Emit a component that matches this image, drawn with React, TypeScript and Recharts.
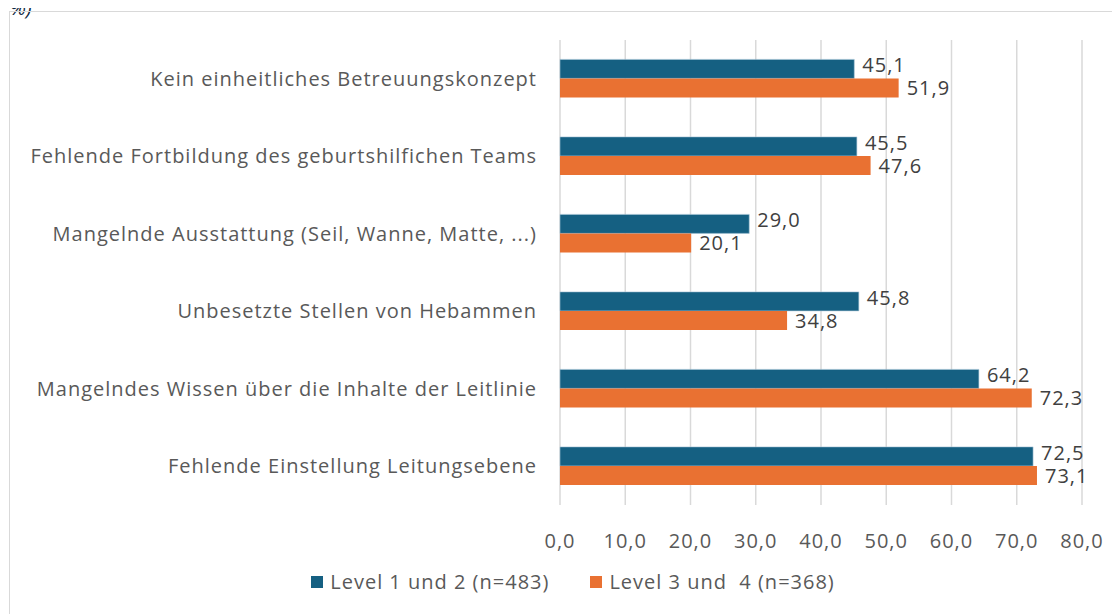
import React from "react";
import { BarChart, Bar, XAxis, YAxis, CartesianGrid, LabelList, Legend } from "recharts";

const categories = [
  "Kein einheitliches Betreuungskonzept",
  "Fehlende Fortbildung des geburtshilfichen Teams",
  "Mangelnde Ausstattung (Seil, Wanne, Matte, ...)",
  "Unbesetzte Stellen von Hebammen",
  "Mangelndes Wissen über die Inhalte der Leitlinie",
  "Fehlende Einstellung Leitungsebene",
];
const level12 = [45.1, 45.5, 29.0, 45.8, 64.2, 72.5];
const level34 = [51.9, 47.6, 20.1, 34.8, 72.3, 73.1];
const xTicks = [0, 10, 20, 30, 40, 50, 60, 70, 80];
const seriesNames = ["Level 1 und 2 (n=483)", "Level 3 und  4 (n=368)"];
const COLORS = ["#156082", "#E97132"];

const FONT = "'Open Sans', sans-serif";
const TEXT = "#595959";
const SPACING = 1;

const data = categories.map((name, i) => ({ name, a: level12[i], b: level34[i] }));

const fmt = (v: number) => v.toFixed(1).replace(".", ",");

function makeLabel(dy: number) {
  return (props: any) => {
    const { x, y, width, height, value } = props;
    return (
      <text
        x={Number(x) + Number(width) + 8}
        y={Number(y) + Number(height) / 2 + dy}
        dominantBaseline="middle"
        fill="#404040"
        fontSize={20}
        fontFamily={FONT}
        letterSpacing={SPACING}
      >
        {fmt(Number(value))}
      </text>
    );
  };
}

function LegendBox() {
  return (
    <div
      style={{
        display: "flex",
        justifyContent: "center",
        gap: 41,
        paddingLeft: 56,
        fontFamily: FONT,
        fontSize: 20,
        letterSpacing: SPACING,
        color: TEXT,
      }}
    >
      {seriesNames.map((n, i) => (
        <div key={n} style={{ display: "flex", alignItems: "center", gap: 7 }}>
          <span style={{ width: 12, height: 12, background: COLORS[i], display: "inline-block" }} />
          <span style={{ whiteSpace: "pre" }}>{n}</span>
        </div>
      ))}
    </div>
  );
}

const tickStyle = { fill: TEXT, fontSize: 20, fontFamily: FONT, letterSpacing: SPACING };

export default function App() {
  return (
    <div style={{ position: "relative", width: 1112, height: 606, overflow: "visible" }}>
      <span
        style={{
          position: "absolute",
          left: 2,
          top: -10,
          lineHeight: "20px",
          fontFamily: FONT,
          fontStyle: "italic",
          fontSize: 20,
          color: "#0E2841",
        }}
      >
        %)
      </span>
      <div
        style={{
          position: "absolute",
          left: 1,
          top: 3,
          width: 1200,
          height: 700,
          border: "1px solid #d9d9d9",
          boxSizing: "border-box",
        }}
      />
      <div style={{ position: "absolute", left: 0, top: 0 }}>
        <BarChart
          width={1112}
          height={606}
          data={data}
          layout="vertical"
          margin={{ top: 32, right: 38, bottom: 16, left: 0 }}
          barCategoryGap="25%"
          barGap={0}
        >
          <CartesianGrid horizontal={false} stroke="#d9d9d9" strokeWidth={1.5} />
          <XAxis
            type="number"
            domain={[0, 80]}
            ticks={xTicks}
            tickFormatter={fmt}
            axisLine={false}
            tickLine={false}
            tickSize={0}
            tickMargin={29}
            height={63}
            tick={tickStyle}
          />
          <YAxis
            type="category"
            dataKey="name"
            width={552}
            axisLine={false}
            tickLine={false}
            tickSize={0}
            tickMargin={23}
            interval={0}
            tick={tickStyle}
          />
          <Legend verticalAlign="bottom" height={30} content={() => <LegendBox />} />
          <Bar dataKey="a" name={seriesNames[0]} fill={COLORS[0]} stroke="#a9c6d6" strokeWidth={0.6} isAnimationActive={false}>
            <LabelList dataKey="a" content={makeLabel(-2)} />
          </Bar>
          <Bar dataKey="b" name={seriesNames[1]} fill={COLORS[1]} isAnimationActive={false}>
            <LabelList dataKey="b" content={makeLabel(2)} />
          </Bar>
        </BarChart>
      </div>
    </div>
  );
}
